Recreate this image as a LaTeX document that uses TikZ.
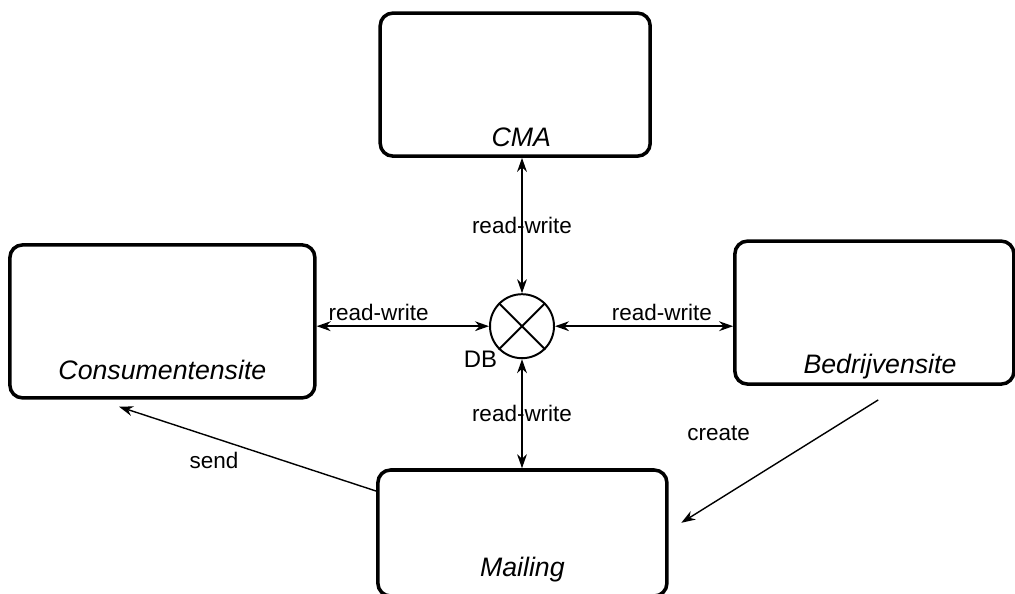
\documentclass[tikz,border=0pt]{standalone}
\usepackage{fontspec}
\setmainfont{Liberation Sans}
\usetikzlibrary{arrows.meta,quotes}

\begin{document}
\begin{tikzpicture}[
  box/.style={draw, line width=2.5pt, rounded corners=9pt, inner sep=0pt},
  boxname/.style={font=\fontsize{19}{23}\selectfont\itshape, anchor=base},
  link/.style={line width=1pt, >={Stealth[length=10pt,width=7pt]}, font=\fontsize{16}{19}\selectfont}
]
\useasboundingbox (0,0) rectangle (25.375,14.825);
\node[box, minimum width=6.75cm, minimum height=3.575cm, label={[boxname, yshift=0.275cm, xshift=0.15cm]south:{CMA}}] (cma) at (12.88,12.71){};
\node[box, minimum width=7.625cm, minimum height=3.825cm, label={[boxname, yshift=0.5cm]south:{Consumentensite}}] (cons) at (4.06,6.79){};
\node[box, minimum width=6.975cm, minimum height=3.575cm, label={[boxname, yshift=0.3cm, xshift=0.14cm]south:{Bedrijvensite}}] (bedr) at (21.86,7.01){};
\node[box, minimum width=7.225cm, minimum height=3.15cm, label={[boxname, yshift=0.52cm]south:{Mailing}}] (mail) at (13.06,1.5){};
\node[circle, draw, line width=1.4pt, minimum size=1.6cm, inner sep=0pt, label={[font=\fontsize{17}{20}\selectfont, inner sep=1pt]below left:{DB}}] (db) at (13.05,6.67){};
\draw[line width=1.4pt] (db.45) -- (db.225) (db.135) -- (db.-45);
\draw[link, <->] (db.north |- cma.south) to node[midway]{read-write} (db.north);
\draw[link, <->] (db.south) to node[midway]{read-write} (db.south |- mail.north);
\draw[link, <->] (db.west -| cons.east) to ["read-write" pos=0.36] (db.west);
\draw[link, <->] (db.east) to ["read-write" pos=0.6] (db.east -| bedr.west);
\draw[link, ->] (mail.164) to ["send" {pos=0.6, xshift=0.55cm, yshift=-0.15cm}] ([yshift=-5pt]cons.241);
\draw[link, ->] ([yshift=-10pt]bedr.273) to ["create"' {pos=0.6, xshift=-0.12cm, yshift=0.7cm}] ([xshift=9pt]mail.4);
\end{tikzpicture}
\end{document}
